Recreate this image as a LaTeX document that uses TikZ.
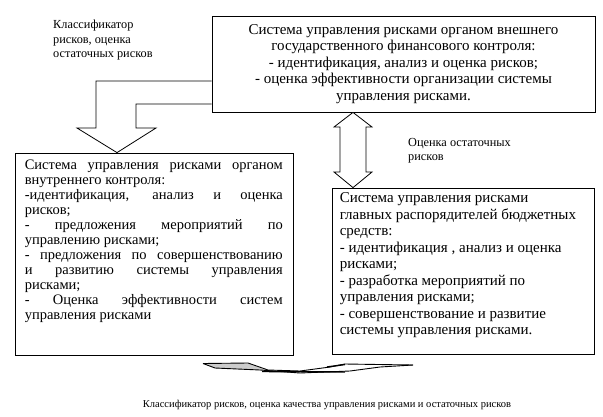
\documentclass[tikz,border=0pt]{standalone}
\usepackage{fontspec}
\setmainfont{Liberation Serif}
\newcommand\myjust[1]{\makebox[258pt][s]{#1}}
\begin{document}
\begin{tikzpicture}[x=1pt,y=-1pt,
  frame/.style={draw=black, line width=0.8pt, fill=white, inner sep=0pt},
  boxtext/.style={inner sep=0pt, font=\fontsize{15}{16.5}\selectfont},
  lbl/.style={inner sep=0pt, align=left, font=\fontsize{12.3}{14.5}\selectfont},
  blockarrow/.style={draw=black, line width=0.8pt, fill=white, line join=miter}]
\useasboundingbox (0,0) rectangle (603,416);
% boxes
\node[frame, minimum width=383pt, minimum height=96pt] (ext) at (403.5,64) {};
\node[frame, minimum width=278pt, minimum height=202pt] (int) at (154,254) {};
\node[frame, minimum width=262pt, minimum height=166pt] (grbs) at (463,271) {};
% box texts
\node[boxtext, align=center] (exttext) at (ext.center)
  {Система управления рисками органом внешнего\\
   государственного финансового контроля:\\
   - идентификация, анализ и оценка рисков;\\
   - оценка эффективности организации системы\\
   управления рисками.};
\node[boxtext, font=\fontsize{14.5}{15}\selectfont, align=left, anchor=north west]
  (inttext) at ([shift={(10,7)}]int.north west)
  {\myjust{Система управления рисками органом}\\
   внутреннего контроля:\\
   \myjust{-идентификация, анализ и оценка}\\
   рисков;\\
   \myjust{- предложения мероприятий по}\\
   управлению рисками;\\
   \myjust{- предложения по совершенствованию}\\
   \myjust{и развитию системы управления}\\
   рисками;\\
   \myjust{- Оценка эффективности систем}\\
   управления рисками};
\node[boxtext, align=left, anchor=north west]
  (grbstext) at ([shift={(8,5)}]grbs.north west)
  {Система управления рисками\\
   главных распорядителей бюджетных\\
   средств:\\
   - идентификация , анализ и оценка\\
   рисками;\\
   - разработка мероприятий по\\
   управления рисками;\\
   - совершенствование и развитие\\
   системы управления рисками.};
% labels
\node[lbl, anchor=north west] (lbl1) at (53,20)
  {Классификатор\\рисков, оценка\\остаточных рисков};
\node[lbl, anchor=north west] (lbl2) at (408,138)
  {Оценка остаточных\\рисков};
\node[inner sep=0pt, font=\fontsize{10.5}{12}\selectfont] (lbl3) at (327,405)
  {Классификатор рисков, оценка качества управления рисками и остаточных рисков};
% bent block arrow from external to internal
\draw[blockarrow] (ext.west |- 0,81) -- (96,81) -- (96,128) -- (77,128)
  -- (int.north -| 117,0) -- (156,128) -- (136,128) -- (136,104) -- (ext.west |- 0,104);
% double block arrow between external and grbs
\draw[blockarrow] (ext.south -| 353,0) -- (372,127) -- (366,127) -- (366,172) -- (372,172)
  -- (grbs.north -| 353,0) -- (334,172) -- (340,172) -- (340,127) -- (334,127) -- cycle;
% curved wavy arrow at bottom
\coordinate (cwL) at (203,363.5);
\coordinate (cwR) at (413,365);
\fill[gray!40] (cwL) -- (248,363) -- (266,370) -- (258,370) -- (215,368) -- cycle;
\draw[line width=0.9pt] (cwL) -- (248,363) -- (268,370) -- (300,371) -- (330,367) -- (345,364) -- (cwR);
\draw[line width=0.9pt] (cwL) -- (215,368) -- (260,370) -- (300,373) -- (350,371) -- (380,367) -- (cwR);
\draw[line width=1.4pt] (262,371.5) -- (345,372);
\draw[line width=1.4pt] (327,367) -- (345,364.5);
\end{tikzpicture}
\end{document}
